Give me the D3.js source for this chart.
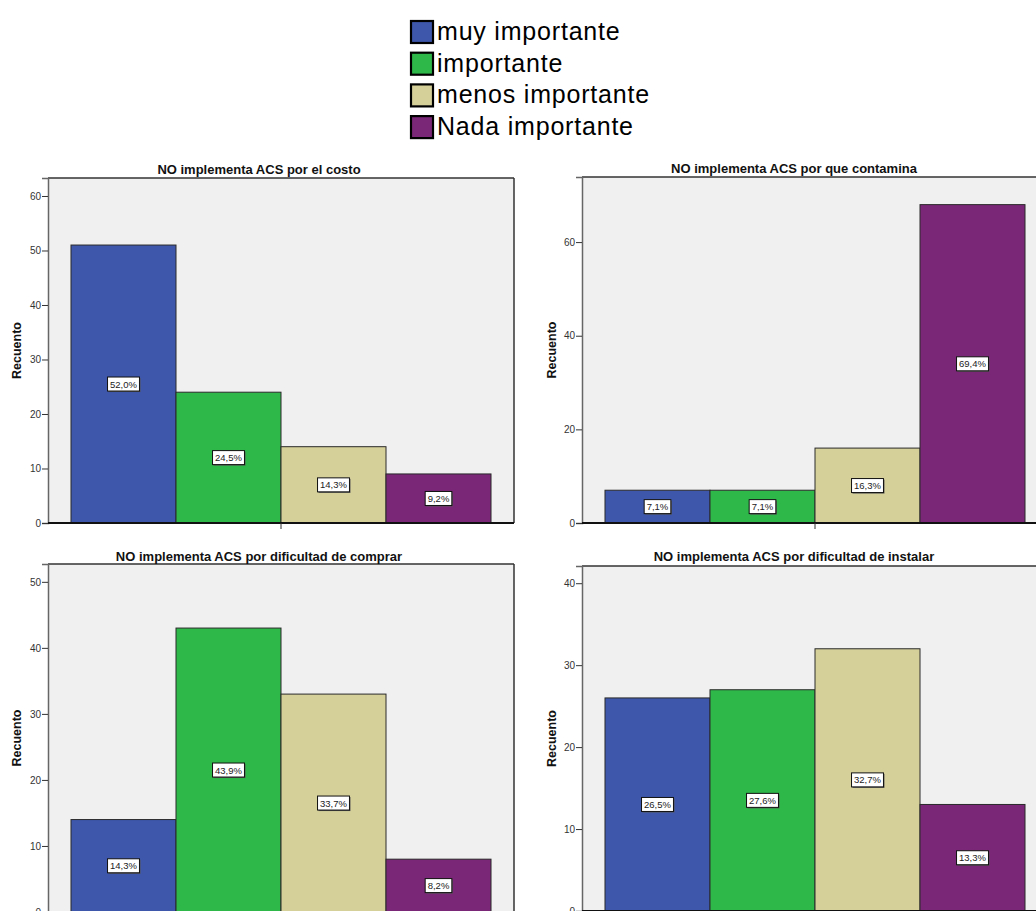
<!DOCTYPE html>
<html>
<head>
<meta charset="utf-8">
<script src="https://cdn.jsdelivr.net/npm/d3@7"></script>
<style>
  html, body { margin: 0; padding: 0; background: #ffffff; }
  svg { display: block; }
</style>
</head>
<body>
<svg id="chart" width="1036" height="911"></svg>
<script>
// ---------- DATA ----------
const categories = ["muy importante", "importante", "menos importante", "Nada importante"];
const panelTitles = [
  "NO implementa ACS por el costo",
  "NO implementa ACS por que contamina",
  "NO implementa ACS por dificultad de comprar",
  "NO implementa ACS por dificultad de instalar"
];
const costoValues = [51, 24, 14, 9];
const contaminaValues = [7, 7, 16, 68];
const comprarValues = [14, 43, 33, 8];
const instalarValues = [26, 27, 32, 13];
const yMaxValues = [63.3, 73.9, 52.7, 42.1];
const yTickValues = [
  [0, 10, 20, 30, 40, 50, 60],
  [0, 20, 40, 60],
  [0, 10, 20, 30, 40, 50],
  [0, 10, 20, 30, 40]
];
const yAxisLabel = "Recuento";
const seriesValues = [costoValues, contaminaValues, comprarValues, instalarValues];

// ---------- STYLE / LAYOUT ----------
const colors = ["#3E57AB", "#2EB84A", "#D5D09A", "#7B2777"];
const plotW = 466;
const layout = [
  { x: 48,  top: 178, bottom: 523, titleX: 259, titleY: 174, labelX: 17 },
  { x: 582, top: 177, bottom: 523, titleX: 794, titleY: 173, labelX: 552 },
  { x: 48,  top: 564, bottom: 912, titleX: 259, titleY: 561, labelX: 17 },
  { x: 582, top: 566, bottom: 911, titleX: 794, titleY: 561, labelX: 552 }
];

const locale = d3.formatLocale({ decimal: ",", thousands: ".", grouping: [3], currency: ["", "€"] });
const pct = locale.format(".1f");

const svg = d3.select("#chart");
svg.append("rect").attr("width", 1036).attr("height", 911).attr("fill", "#ffffff");

// ---------- LEGEND ----------
const legend = svg.append("g").attr("transform", "translate(410,20)");
categories.forEach((c, i) => {
  const g = legend.append("g").attr("transform", `translate(0,${i * 31.7})`);
  g.append("rect").attr("x", 1).attr("y", 1).attr("width", 22).attr("height", 22)
    .attr("fill", colors[i]).attr("stroke", "#000").attr("stroke-width", 2.2);
  g.append("text").attr("x", 27).attr("y", 20)
    .attr("font-family", "Liberation Sans, Arial, sans-serif")
    .attr("font-size", 25).attr("letter-spacing", 0.8).attr("fill", "#000")
    .text(c);
});

// ---------- PANELS ----------
layout.forEach((L, p) => {
  const vals = seriesValues[p];
  const total = d3.sum(vals);
  const g = svg.append("g");

  const x = d3.scaleBand().domain(categories).range([L.x, L.x + plotW])
    .paddingInner(0).paddingOuter(0.219);
  const y = d3.scaleLinear().domain([0, yMaxValues[p]]).range([L.bottom, L.top]);

  // background frame
  g.append("rect").attr("x", L.x).attr("y", L.top).attr("width", plotW).attr("height", L.bottom - L.top)
    .attr("fill", "#F0F0F0");
  g.append("line").attr("x1", L.x).attr("x2", L.x + plotW).attr("y1", L.top).attr("y2", L.top)
    .attr("stroke", "#333").attr("stroke-width", 1.5);
  g.append("line").attr("x1", L.x + plotW).attr("x2", L.x + plotW).attr("y1", L.top).attr("y2", L.bottom)
    .attr("stroke", "#333").attr("stroke-width", 1.5);

  // bars
  g.selectAll("rect.bar").data(vals).enter().append("rect").attr("class", "bar")
    .attr("x", (d, i) => x(categories[i]))
    .attr("y", d => y(d))
    .attr("width", x.bandwidth())
    .attr("height", d => y(0) - y(d))
    .attr("fill", (d, i) => colors[i])
    .attr("stroke", "#2a2a2a").attr("stroke-width", 1);

  // y axis
  const yAxis = d3.axisLeft(y).tickValues(yTickValues[p]).tickSize(6).tickPadding(1).tickFormat(d3.format("d"));
  const ya = g.append("g").attr("transform", `translate(${L.x},0)`).call(yAxis);
  ya.select(".domain").attr("stroke", "#666").attr("stroke-width", 1.5);
  ya.selectAll(".tick line").attr("stroke", "#333");
  ya.selectAll(".tick text").attr("font-family", "Liberation Sans, Arial, sans-serif")
    .attr("font-size", 10).attr("fill", "#333");

  // x axis baseline with center tick
  const xc = L.x + plotW / 2;
  g.append("line").attr("x1", L.x).attr("x2", L.x + plotW).attr("y1", y(0)).attr("y2", y(0))
    .attr("stroke", "#111").attr("stroke-width", 2);
  g.append("line").attr("x1", xc).attr("x2", xc).attr("y1", y(0)).attr("y2", y(0) + 6)
    .attr("stroke", "#333").attr("stroke-width", 1);

  // percentage labels
  vals.forEach((v, i) => {
    const cx = x(categories[i]) + x.bandwidth() / 2;
    const cy = y(v / 2);
    const t = pct(v / total * 100) + "%";
    const lg = g.append("g");
    const txt = lg.append("text").attr("x", cx).attr("y", cy + 3.5)
      .attr("text-anchor", "middle")
      .attr("font-family", "Liberation Sans, Arial, sans-serif")
      .attr("font-size", 9.5).attr("fill", "#222").text(t);
    const bw = txt.node().getComputedTextLength() + 5;
    lg.insert("rect", "text").attr("x", cx - bw / 2 + 1).attr("y", cy - 7 + 1).attr("width", bw).attr("height", 14)
      .attr("fill", "#555");
    lg.insert("rect", "text").attr("x", cx - bw / 2).attr("y", cy - 7).attr("width", bw).attr("height", 14)
      .attr("fill", "#fff").attr("stroke", "#111").attr("stroke-width", 1);
  });

  // title
  g.append("text").attr("x", L.titleX).attr("y", L.titleY).attr("text-anchor", "middle")
    .attr("font-family", "Liberation Sans, Arial, sans-serif").attr("font-weight", "bold")
    .attr("font-size", 13).attr("fill", "#111").text(panelTitles[p]);

  // y axis label
  g.append("text")
    .attr("transform", `translate(${L.labelX + 4},${(L.top + L.bottom) / 2}) rotate(-90)`)
    .attr("text-anchor", "middle")
    .attr("font-family", "Liberation Sans, Arial, sans-serif").attr("font-weight", "bold")
    .attr("font-size", 12.5).attr("fill", "#111").text(yAxisLabel);
});
</script>
</body>
</html>
